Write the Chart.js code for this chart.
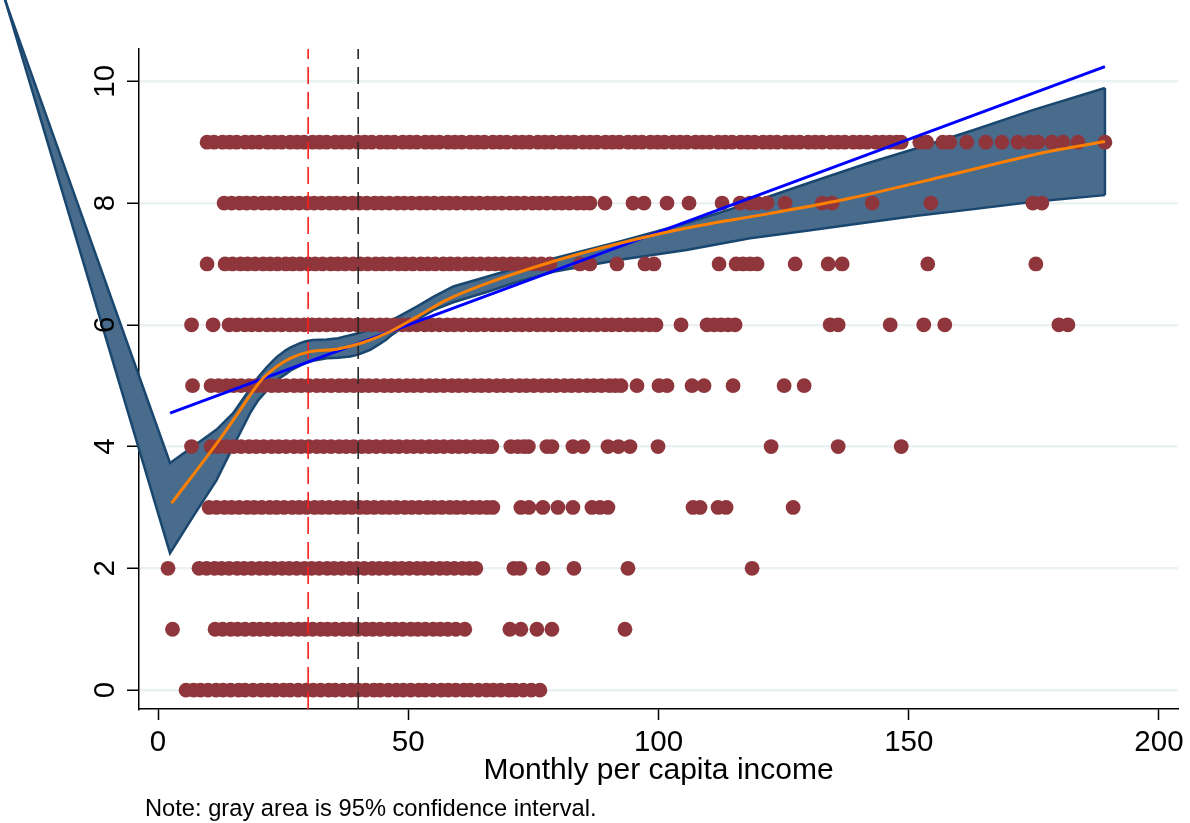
<!DOCTYPE html>
<html>
<head>
<meta charset="utf-8">
<script src="https://cdn.jsdelivr.net/npm/chart.js@4.4.1/dist/chart.umd.min.js"></script>
<style>
  html, body { margin: 0; padding: 0; background: #fff; }
  #wrap { width: 1190px; height: 823px; }
</style>
</head>
<body>
<div id="wrap"><canvas id="c" width="1190" height="823"></canvas></div>
<script>
// Score level (0-10) by monthly per capita income, with linear fit,
// lowess smoother and its 95% confidence band.

const xTicks = [0, 50, 100, 150, 200];
const yTicks = [0, 2, 4, 6, 8, 10];
const xRange = [-3.8, 203.8];
const yRange = [-0.31, 10.53];
const xTitle = 'Monthly per capita income';
const noteText = 'Note: gray area is 95% confidence interval.';
const thresholds = [30, 40];

// observed incomes at each score level
const level0Income = [5.6, 7.1, 8.5, 10.0, 11.6, 13.0, 14.5, 16.1, 17.4, 19.0, 20.6, 22.0, 23.5, 25.1, 26.4, 28.0, 29.6, 31.0, 32.5, 34.1, 35.4, 37.0, 38.6, 40.0, 41.5, 43.1, 44.4, 46.0, 47.6, 49.0, 50.5, 52.1, 53.4, 55.0, 56.6, 58.0, 59.5, 61.1, 62.4, 64.0, 65.6, 67.0, 68.5, 70.1, 71.4, 73.0, 74.6, 76.3];
const level1Income = [2.9, 11.4, 12.9, 14.5, 15.9, 17.4, 19.0, 20.4, 21.9, 23.5, 24.9, 26.4, 28.0, 29.4, 30.9, 32.5, 33.9, 35.4, 37.0, 38.4, 39.9, 41.5, 42.9, 44.4, 46.0, 47.4, 48.9, 50.5, 51.9, 53.4, 55.0, 56.4, 57.9, 59.5, 61.3, 70.3, 72.5, 75.7, 78.7, 93.3];
const level2Income = [2.0, 8.2, 9.7, 11.3, 12.7, 14.2, 15.8, 17.2, 18.7, 20.3, 21.7, 23.2, 24.8, 26.2, 27.7, 29.3, 30.7, 32.2, 33.8, 35.2, 36.7, 38.3, 39.7, 41.2, 42.8, 44.2, 45.7, 47.3, 48.7, 50.2, 51.8, 53.2, 54.7, 56.3, 57.7, 59.2, 60.8, 62.2, 63.5, 71.1, 72.3, 76.9, 83.1, 93.9, 118.7];
const level3Income = [10.2, 11.7, 13.3, 14.7, 16.2, 17.8, 19.2, 20.7, 22.3, 23.7, 25.2, 26.8, 28.2, 29.7, 31.3, 32.7, 34.2, 35.8, 37.2, 38.7, 40.3, 41.7, 43.2, 44.8, 46.2, 47.7, 49.3, 50.7, 52.2, 53.8, 55.2, 56.7, 58.3, 59.7, 61.2, 62.8, 64.2, 65.7, 66.9, 72.5, 74.1, 76.9, 79.9, 82.9, 86.7, 88.3, 89.9, 106.9, 108.3, 111.9, 113.5, 126.9];
const level4Income = [6.7, 10.6, 12.1, 13.7, 15.1, 16.6, 18.2, 19.6, 21.1, 22.7, 24.1, 25.6, 27.2, 28.6, 30.1, 31.7, 33.1, 34.6, 36.2, 37.6, 39.1, 40.7, 42.1, 43.6, 45.2, 46.6, 48.1, 49.7, 51.1, 52.6, 54.2, 55.6, 57.1, 58.7, 60.1, 61.6, 63.2, 64.6, 65.9, 66.7, 70.5, 71.9, 73.1, 74.0, 77.7, 78.7, 82.9, 84.9, 89.9, 92.0, 94.3, 99.9, 122.5, 135.9, 148.5];
const level5Income = [6.9, 10.6, 12.1, 13.7, 15.1, 16.6, 18.2, 19.6, 21.1, 22.7, 24.1, 25.6, 27.2, 28.6, 30.1, 31.7, 33.1, 34.6, 36.2, 37.6, 39.1, 40.7, 42.1, 43.6, 45.2, 46.6, 48.1, 49.7, 51.1, 52.6, 54.2, 55.6, 57.1, 58.7, 60.1, 61.6, 63.2, 64.6, 66.1, 67.7, 69.1, 70.6, 72.2, 73.6, 75.1, 76.7, 78.1, 79.6, 81.2, 82.6, 84.1, 85.7, 87.1, 88.6, 90.2, 91.4, 92.5, 95.7, 100.1, 101.7, 106.7, 109.1, 114.9, 125.1, 129.1];
const level6Income = [6.7, 11.0, 14.2, 15.7, 17.3, 18.7, 20.2, 21.8, 23.2, 24.7, 26.3, 27.7, 29.2, 30.8, 32.2, 33.7, 35.3, 36.7, 38.2, 39.8, 41.2, 42.7, 44.3, 45.7, 47.2, 48.8, 50.2, 51.7, 53.3, 54.7, 56.2, 57.8, 59.2, 60.7, 62.3, 63.7, 65.2, 66.8, 68.2, 69.7, 71.3, 72.7, 74.2, 75.8, 77.2, 78.7, 80.3, 81.7, 83.2, 84.8, 86.2, 87.7, 89.3, 90.7, 92.2, 93.8, 95.2, 96.7, 98.2, 99.5, 104.5, 109.7, 111.1, 112.5, 113.9, 115.3, 134.3, 135.9, 146.3, 153.0, 157.2, 180.0, 181.8];
const level7Income = [9.8, 13.4, 14.9, 16.5, 17.9, 19.4, 21.0, 22.4, 23.9, 25.5, 26.9, 28.4, 30.0, 31.4, 32.9, 34.5, 35.9, 37.4, 39.0, 40.4, 41.9, 43.5, 44.9, 46.4, 48.0, 49.4, 50.9, 52.5, 53.9, 55.4, 57.0, 58.4, 59.9, 61.5, 62.9, 64.4, 66.0, 67.4, 68.9, 70.5, 71.9, 73.4, 75.0, 76.6, 78.3, 84.3, 86.3, 91.7, 97.3, 99.1, 112.1, 115.5, 116.9, 118.3, 119.7, 127.3, 133.9, 136.7, 153.8, 175.4];
const level8Income = [13.2, 14.7, 16.3, 17.7, 19.2, 20.8, 22.2, 23.7, 25.3, 26.7, 28.2, 29.8, 31.2, 32.7, 34.3, 35.7, 37.2, 38.8, 40.2, 41.7, 43.3, 44.7, 46.2, 47.8, 49.2, 50.7, 52.3, 53.7, 55.2, 56.8, 58.2, 59.7, 61.3, 62.7, 64.2, 65.8, 67.2, 68.7, 70.3, 71.7, 73.2, 74.8, 76.2, 77.7, 79.3, 80.7, 82.2, 83.8, 85.1, 86.3, 89.3, 94.9, 97.1, 101.7, 106.1, 112.7, 116.3, 118.3, 119.7, 121.7, 125.3, 132.7, 134.7, 142.7, 154.4, 174.8, 176.6];
const level9Income = [9.8, 11.2, 12.9, 14.3, 15.7, 17.4, 18.8, 20.2, 21.9, 23.3, 24.7, 26.4, 27.8, 29.2, 30.9, 32.3, 33.7, 35.4, 36.8, 38.2, 39.9, 41.3, 42.7, 44.4, 45.8, 47.2, 48.9, 50.3, 51.7, 53.4, 54.8, 56.2, 57.9, 59.3, 60.7, 62.4, 63.8, 65.2, 66.9, 68.3, 69.7, 71.4, 72.8, 74.2, 75.9, 77.3, 78.7, 80.4, 81.8, 83.2, 84.9, 86.3, 87.7, 89.4, 90.8, 92.2, 93.9, 95.3, 96.7, 98.4, 99.8, 101.2, 102.9, 104.3, 105.7, 107.4, 108.8, 110.2, 111.9, 113.3, 114.7, 116.4, 117.8, 119.2, 120.9, 122.3, 123.7, 125.4, 126.8, 128.2, 129.9, 131.3, 132.7, 134.4, 135.8, 137.2, 138.9, 140.3, 141.7, 143.4, 144.8, 146.2, 147.6, 148.5, 152.2, 153.6, 156.8, 158.2, 161.6, 165.4, 168.6, 171.8, 174.2, 175.8, 178.6, 180.8, 183.8, 189.2];
const levelIncomes = [level0Income, level1Income, level2Income, level3Income, level4Income,
                      level5Income, level6Income, level7Income, level8Income, level9Income];

// lowess confidence band
const bandX     = [-31.5, 2.4, 7, 11.7, 15, 18.4, 20, 21.7, 23, 23.7, 25.5, 26.5, 28.4, 29.5, 31, 33.7, 36, 38.4, 40, 42.4, 44, 45.5, 46.5, 48.4, 51.7, 55, 59, 65.7, 72, 79, 92.3, 105.6, 118.3, 130, 141.6, 151.6, 163, 174.9, 189.2];
const bandUpper = [11.55, 3.73, 4.0, 4.28, 4.55, 4.95, 5.14, 5.3, 5.41, 5.47, 5.58, 5.63, 5.7, 5.73, 5.75, 5.76, 5.78, 5.83, 5.86, 5.92, 5.97, 6.03, 6.07, 6.15, 6.3, 6.46, 6.63, 6.79, 6.94, 7.09, 7.37, 7.67, 8.0, 8.33, 8.65, 8.9, 9.2, 9.53, 9.89];
const bandLower = [11.6, 2.25, 2.85, 3.45, 4.0, 4.55, 4.76, 4.92, 5.03, 5.09, 5.19, 5.25, 5.33, 5.37, 5.41, 5.45, 5.46, 5.48, 5.51, 5.59, 5.67, 5.75, 5.82, 5.93, 6.08, 6.24, 6.37, 6.54, 6.71, 6.87, 7.07, 7.23, 7.42, 7.55, 7.68, 7.79, 7.9, 8.02, 8.13];

// lowess smoother
const lowessX = [2.7, 11.7, 16, 20.4, 23.5, 26.4, 30.4, 35.7, 41, 46.4, 51.7, 57.7, 65.7, 78.9, 92.3, 105.6, 122.3, 138.3, 158.2, 178.2, 189.2];
const lowessY = [3.07, 4.05, 4.55, 5.07, 5.3, 5.45, 5.56, 5.6, 5.71, 5.89, 6.13, 6.41, 6.68, 7.04, 7.34, 7.59, 7.83, 8.08, 8.46, 8.85, 9.01];

// linear fit
const fitX = [2.4, 189.2];
const fitY = [4.55, 10.24];

const FONT = "'Liberation Sans', Arial, Helvetica, sans-serif";
const MAROON = 'rgb(143,54,60)';
const BAND_FILL = 'rgb(73,108,140)';
const BAND_EDGE = 'rgb(26,71,111)';

const pts = (xs, ys) => xs.map((x, i) => ({ x, y: ys[i] }));

const scatterData = [];
levelIncomes.forEach((incomes, level) => incomes.forEach(x => scatterData.push({ x, y: level })));

// lets the confidence band run past the plot region
const openArea = {
  id: 'openArea',
  beforeDatasetsDraw(chart) {
    chart.$keptArea = chart.chartArea;
    chart.chartArea = { left: 0, top: 0, right: chart.width, bottom: chart.height,
                        width: chart.width, height: chart.height };
  },
  afterDatasetsDraw(chart) {
    chart.chartArea = chart.$keptArea;
  }
};

const notePlugin = {
  id: 'note',
  afterDraw(chart) {
    const ctx = chart.ctx;
    ctx.save();
    ctx.font = '23.7px ' + FONT;
    ctx.fillStyle = '#000';
    ctx.textAlign = 'left';
    ctx.textBaseline = 'alphabetic';
    ctx.fillText(noteText, 145, 816);
    ctx.restore();
  }
};

const vline = (x, color, order) => ({
  type: 'line',
  data: [{ x, y: yRange[0] }, { x, y: yRange[1] }],
  borderColor: color, borderWidth: 1.6, borderDash: [17, 8],
  pointRadius: 0, fill: false, order
});

const bandLine = (ys, extra) => Object.assign({
  type: 'line', data: pts(bandX, ys), pointRadius: 0, tension: 0, clip: false
}, extra);

new Chart(document.getElementById('c'), {
  type: 'scatter',
  data: {
    datasets: [
      { type: 'line', data: pts(lowessX, lowessY), borderColor: 'rgb(255,127,0)', borderWidth: 3,
        pointRadius: 0, fill: false, cubicInterpolationMode: 'monotone', order: 1 },
      { type: 'line', data: pts(fitX, fitY), borderColor: 'rgb(0,0,255)', borderWidth: 3,
        pointRadius: 0, fill: false, order: 2 },
      vline(thresholds[0], 'rgb(255,30,30)', 3),
      vline(thresholds[1], 'rgb(40,40,40)', 3),
      { type: 'scatter', data: scatterData, backgroundColor: MAROON, borderColor: MAROON,
        borderWidth: 0, pointRadius: 7.4, pointHoverRadius: 7.4, order: 5 },
      bandLine(bandUpper, { borderColor: BAND_EDGE, borderWidth: 2.5, fill: false, order: 8 }),
      bandLine(bandLower, { borderColor: BAND_EDGE, borderWidth: 2.5, fill: false, order: 8 }),
      { type: 'line', data: [{ x: bandX[bandX.length - 1], y: bandLower[bandLower.length - 1] },
                             { x: bandX[bandX.length - 1], y: bandUpper[bandUpper.length - 1] }],
        borderColor: BAND_EDGE, borderWidth: 2.5, pointRadius: 0, fill: false, clip: false, order: 8 },
      bandLine(bandUpper, { borderWidth: 0, borderColor: 'rgba(0,0,0,0)',
        backgroundColor: BAND_FILL, fill: '+1', order: 9 }),
      bandLine(bandLower, { borderWidth: 0, borderColor: 'rgba(0,0,0,0)', fill: false, order: 9 })
    ]
  },
  options: {
    responsive: false,
    animation: false,
    devicePixelRatio: 1,
    events: [],
    layout: { padding: { left: 0, top: 49, right: 12, bottom: 0 } },
    plugins: { legend: { display: false }, tooltip: { enabled: false } },
    scales: {
      x: {
        type: 'linear', min: xRange[0], max: xRange[1],
        afterBuildTicks: s => { s.ticks = xTicks.map(v => ({ value: v })); },
        afterFit: s => { s.height = 114; s.paddingLeft = 0; s.paddingRight = 0; },
        ticks: { font: { family: FONT, size: 29.5 }, color: '#000', padding: 5,
                 maxRotation: 0, minRotation: 0, autoSkip: false },
        grid: { display: true, drawOnChartArea: false, drawTicks: true, tickLength: 11,
                tickColor: '#000', tickWidth: 1.5 },
        border: { display: true, color: '#000', width: 1.5 },
        title: { display: true, text: xTitle, color: '#000',
                 font: { family: FONT, size: 30 }, padding: { top: 0, bottom: 34 } }
      },
      y: {
        type: 'linear', min: yRange[0], max: yRange[1],
        afterBuildTicks: s => { s.ticks = yTicks.map(v => ({ value: v })); },
        afterFit: s => { s.width = 139; s.paddingTop = 0; s.paddingBottom = 0; },
        ticks: { font: { family: FONT, size: 29.5 }, color: '#000', padding: 5, z: 1,
                 minRotation: 90, maxRotation: 90, crossAlign: 'center', autoSkip: false },
        grid: { color: 'rgb(234,242,243)', lineWidth: 2.5, drawTicks: true, tickLength: 12,
                tickColor: '#000', tickWidth: 1.5 },
        border: { display: true, color: '#000', width: 1.5 }
      }
    }
  },
  plugins: [openArea, notePlugin]
});
</script>
</body>
</html>
